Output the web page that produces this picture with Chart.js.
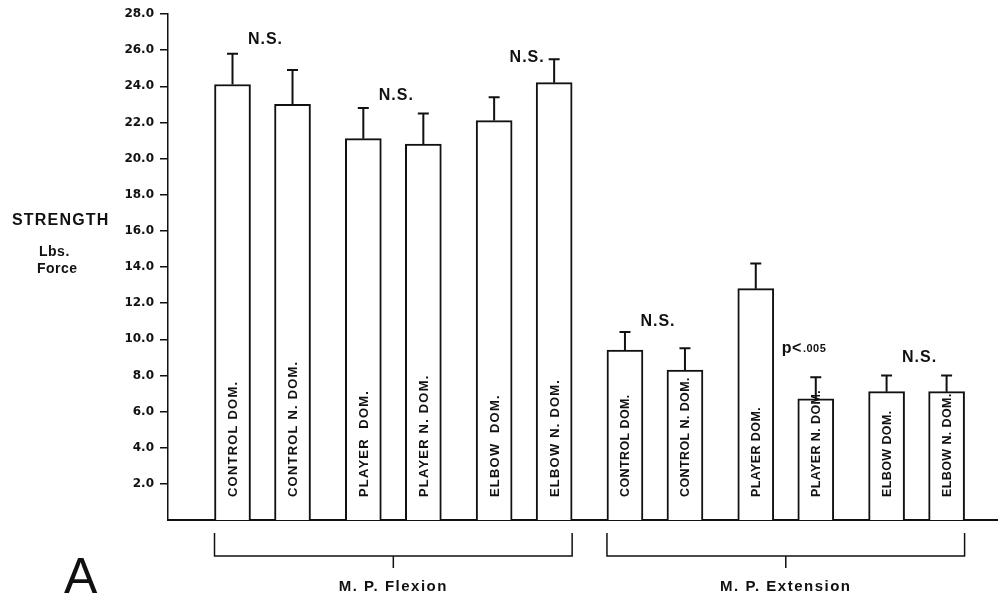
<!DOCTYPE html>
<html>
<head>
<meta charset="utf-8">
<script src="https://cdn.jsdelivr.net/npm/chart.js@4.4.0/dist/chart.umd.min.js"></script>
<style>
  html, body { margin: 0; padding: 0; background: #fff; }
  canvas { display: block; }
</style>
</head>
<body>
<canvas id="strength" width="1001" height="602"></canvas>
<script>
// Grip strength (lbs. force), M.P. flexion and extension, by group and hand
const barLabels = [
  'CONTROL DOM.', 'CONTROL N. DOM.', 'PLAYER  DOM.', 'PLAYER N. DOM.', 'ELBOW  DOM.', 'ELBOW N. DOM.',
  'CONTROL DOM.', 'CONTROL N. DOM.', 'PLAYER DOM.', 'PLAYER N. DOM.', 'ELBOW DOM.', 'ELBOW N. DOM.'
];
const strengthMeans = [24.1, 23.0, 21.1, 20.8, 22.1, 24.2, 9.4, 8.3, 12.8, 6.7, 7.1, 7.1];
const strengthSD    = [1.7, 1.9, 1.7, 1.7, 1.3, 1.3, 1.0, 1.2, 1.4, 1.2, 0.9, 0.9];
const groupNames = ['M. P. Flexion', 'M. P. Extension'];
const yTicks = [2, 4, 6, 8, 10, 12, 14, 16, 18, 20, 22, 24, 26, 28];
// one significance note per dominant / non-dominant pair
const pairNotes  = ['N.S.', 'N.S.', 'N.S.', 'N.S.', 'p<.005', 'N.S.'];
const noteLevels = [26.6, 23.5, 25.6, 11.0, 9.5, 9.0];

const FONT = '"Liberation Sans", Arial, Helvetica, sans-serif';
const TICK_FONT = '"DejaVu Sans", sans-serif';
const INK = '#111';

// pairs sit a little further apart than the two bars within a pair
const pairGap = 0.18;
const xPos = i => i + pairGap * Math.floor(i / 2);
const points = strengthMeans.map((v, i) => ({ x: xPos(i), y: v }));

const paperPlugin = {
  id: 'paper',
  beforeDraw(chart) {
    const c = chart.ctx;
    c.save();
    c.fillStyle = '#fff';
    c.fillRect(0, 0, chart.width, chart.height);
    c.restore();
  }
};

const decorPlugin = {
  id: 'decor',
  afterDatasetsDraw(chart) {
    const c = chart.ctx;
    const y = chart.scales.y;
    const area = chart.chartArea;
    const bars = chart.getDatasetMeta(0).data;
    c.save();
    c.strokeStyle = INK;
    c.fillStyle = INK;

    // error bars (mean + SD)
    c.lineWidth = 2;
    bars.forEach((bar, i) => {
      const top = y.getPixelForValue(strengthMeans[i] + strengthSD[i]);
      c.beginPath();
      c.moveTo(bar.x, bar.y);
      c.lineTo(bar.x, top);
      c.moveTo(bar.x - 5.5, top);
      c.lineTo(bar.x + 5.5, top);
      c.stroke();
    });

    // vertical labels inside the bars
    bars.forEach((bar, i) => {
      const flex = i < 6;
      c.save();
      c.translate(bar.x + 1, area.bottom - 23);
      c.rotate(-Math.PI / 2);
      c.font = 'bold ' + (flex ? 13 : 12.5) + 'px ' + FONT;
      c.letterSpacing = flex ? '1.2px' : '0.4px';
      c.textAlign = 'left';
      c.textBaseline = 'middle';
      c.fillText(barLabels[i], 0, 0);
      c.restore();
    });

    // significance notes
    pairNotes.forEach((note, p) => {
      const cx = (bars[2 * p].x + bars[2 * p + 1].x) / 2;
      const ny = y.getPixelForValue(noteLevels[p]);
      c.textBaseline = 'middle';
      if (note.startsWith('p<')) {
        c.letterSpacing = '0.5px';
        c.textAlign = 'left';
        c.font = 'bold 16px ' + FONT;
        c.fillText('p<', cx - 4, ny);
        const w = c.measureText('p<').width;
        c.font = 'bold 11px ' + FONT;
        c.fillText(note.slice(2), cx - 4 + w + 1, ny + 1);
      } else {
        c.letterSpacing = '1px';
        c.textAlign = 'center';
        c.font = 'bold 16px ' + FONT;
        c.fillText(note, cx + 3, ny);
      }
    });
    c.letterSpacing = '0px';

    // group brackets under the axis
    c.lineWidth = 1.5;
    for (let g = 0; g < 2; g++) {
      const first = bars[g * 6], last = bars[g * 6 + 5];
      const left = first.x - first.width / 2;
      const right = last.x + last.width / 2;
      const mid = (left + right) / 2;
      const top = area.bottom + 13, base = area.bottom + 36, stem = area.bottom + 48;
      c.beginPath();
      c.moveTo(left, top); c.lineTo(left, base); c.lineTo(right, base); c.lineTo(right, top);
      c.moveTo(mid, base); c.lineTo(mid, stem);
      c.stroke();
      c.font = 'bold 15px ' + FONT;
      c.letterSpacing = '1.5px';
      c.textAlign = 'center';
      c.textBaseline = 'middle';
      c.fillText(groupNames[g], mid, area.bottom + 67);
      c.letterSpacing = '0px';
    }

    // axis title
    c.textAlign = 'left';
    c.textBaseline = 'alphabetic';
    c.font = 'bold 16px ' + FONT;
    c.letterSpacing = '1.2px';
    c.fillText('STRENGTH', 12, 225);
    c.letterSpacing = '0.5px';
    c.font = 'bold 14px ' + FONT;
    c.fillText('Lbs.', 39, 256);
    c.fillText('Force', 37, 273);
    c.letterSpacing = '0px';

    // panel letter
    c.font = '50px ' + FONT;
    c.fillText('A', 64, 593);
    c.restore();
  }
};

new Chart(document.getElementById('strength'), {
  type: 'bar',
  data: {
    datasets: [{
      data: points,
      backgroundColor: '#fff',
      borderColor: INK,
      borderWidth: 2,
      borderSkipped: 'start',
      barThickness: 36
    }]
  },
  options: {
    responsive: false,
    animation: false,
    devicePixelRatio: 1,
    layout: { padding: { top: 14, right: 4, bottom: 82, left: 0 } },
    plugins: { legend: { display: false }, tooltip: { enabled: false } },
    scales: {
      x: {
        type: 'linear',
        min: -1.075,
        max: 12.74,
        offset: false,
        grid: { display: false, offset: false },
        ticks: { display: false },
        border: { display: true, color: INK, width: 2 },
        afterFit(s) { s.height = 0; }
      },
      y: {
        min: 0,
        max: 28,
        afterBuildTicks(s) { s.ticks = yTicks.map(v => ({ value: v })); },
        ticks: {
          callback: v => v.toFixed(1),
          color: INK,
          padding: 6,
          font: { family: TICK_FONT, weight: 'bold', size: 12 }
        },
        grid: { drawOnChartArea: false, tickLength: 8, color: INK, lineWidth: 1.5 },
        border: { color: INK, width: 1.5 },
        afterFit(s) { s.width = 168; }
      }
    }
  },
  plugins: [paperPlugin, decorPlugin]
});
</script>
</body>
</html>
